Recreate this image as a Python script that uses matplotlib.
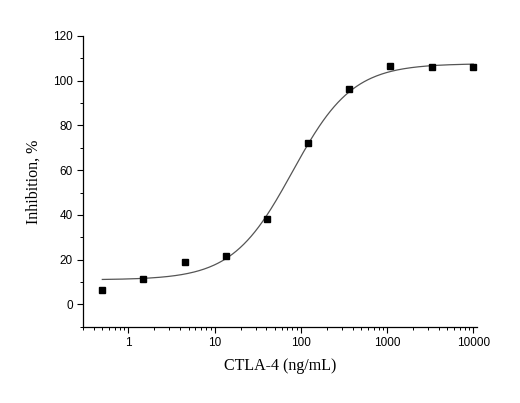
import numpy as np
import matplotlib.pyplot as plt
from matplotlib.ticker import FixedLocator, NullFormatter, LogLocator

conc = [0.5, 1.5, 4.5, 13.5, 40.5, 121.5, 364.5, 1093, 3280, 9841]
inhibition = [6.3, 11.3, 18.8, 21.6, 38.0, 72.0, 96.2, 106.5, 106.0, 106.3]

# 4PL fit parameters (bottom, top, EC50, hill)
bottom, top, ec50, hill = 11.0, 107.6, 80.0, 1.25

fig = plt.figure(figsize=(5.2, 4.03), dpi=100)
ax = fig.add_axes([0.16, 0.189, 0.757, 0.722])

xs = np.logspace(np.log10(0.5), np.log10(10000), 300)
ys = bottom + (top - bottom) / (1 + (ec50 / xs) ** hill)
ax.plot(xs, ys, color='#555555', lw=0.9)
ax.plot(conc, inhibition, 's', color='black', ms=4.5)

ax.set_xscale('log')
ax.set_xlim(0.3, 11000)
ax.set_ylim(-10, 120)
ax.set_xticks([1, 10, 100, 1000, 10000])
ax.set_xticklabels(['1', '10', '100', '1000', '10000'])
ax.xaxis.set_minor_locator(LogLocator(subs=np.arange(2, 10)))
ax.xaxis.set_minor_formatter(NullFormatter())
ax.set_yticks(range(0, 121, 20))
ax.yaxis.set_minor_locator(FixedLocator(range(-10, 121, 10)))

for s in ['top', 'right']:
    ax.spines[s].set_visible(False)
for s in ['left', 'bottom']:
    ax.spines[s].set_linewidth(0.9)
ax.tick_params(which='major', length=4, width=0.8, labelsize=8.5)
ax.tick_params(which='minor', length=2.5, width=0.7)
for lab in ax.get_xticklabels() + ax.get_yticklabels():
    lab.set_family('Liberation Sans')

ax.set_xlabel('CTLA-4 (ng/mL)', family='Liberation Serif', fontsize=11.5, labelpad=6)
ax.set_ylabel('Inhibition, %', family='Liberation Serif', fontsize=11.5, labelpad=8)

fig.savefig('out.png', dpi=100)
